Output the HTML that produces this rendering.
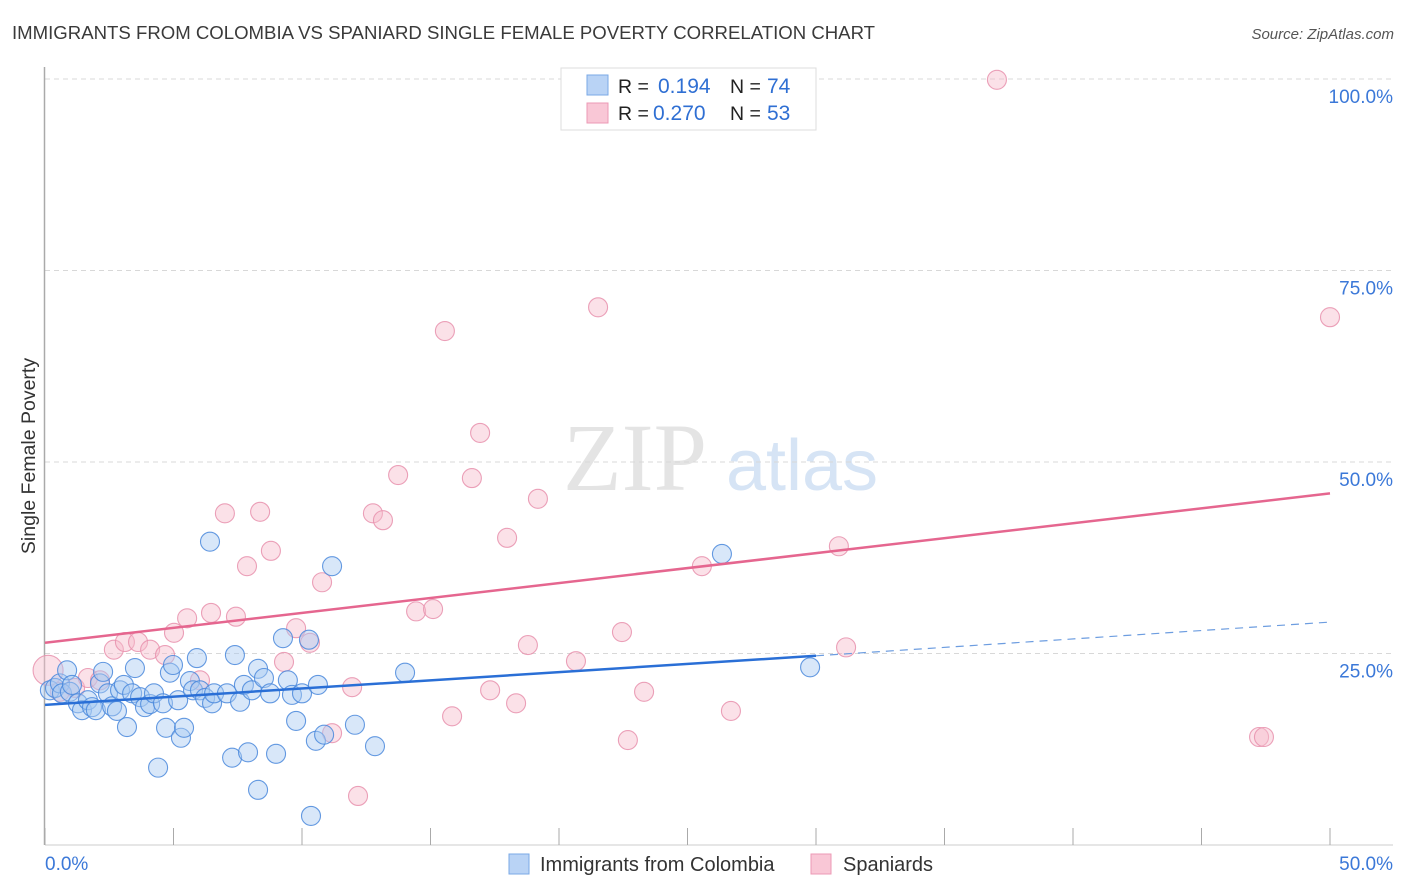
<!DOCTYPE html>
<html><head><meta charset="utf-8"><style>
body{margin:0;background:#fff;font-family:"Liberation Sans",sans-serif;}
svg{display:block}
</style></head><body>
<svg id="chart" width="1406" height="892" xmlns="http://www.w3.org/2000/svg">
<text x="12" y="39" font-size="18.6" fill="#3a3a3a">IMMIGRANTS FROM COLOMBIA VS SPANIARD SINGLE FEMALE POVERTY CORRELATION CHART</text>
<text x="1394" y="39" font-size="15" fill="#555" font-style="italic" text-anchor="end">Source: ZipAtlas.com</text>
<text x="35" y="456" font-size="19.5" fill="#333" text-anchor="middle" transform="rotate(-90 35 456)">Single Female Poverty</text>
<g>
<text x="635" y="490" font-size="96" fill="#e4e4e4" font-family="Liberation Serif,serif" text-anchor="middle">ZIP</text>
<text x="802" y="490" font-size="72" fill="#d6e4f5" text-anchor="middle">atlas</text>
</g>
<g id="grid"></g>
<g id="axes"></g>
<g id="marks"></g>
<g>
<rect x="561" y="68" width="255" height="62" fill="#fff" stroke="#ddd"/>
<rect x="587" y="75" width="21" height="20" fill="#b9d3f5" stroke="#7aa8e6"/>
<rect x="587" y="103" width="21" height="20" fill="#f9c7d6" stroke="#ec9ab5"/>
<text x="618" y="93" font-size="19.5" fill="#222">R = </text><text x="658" y="93" font-size="21" fill="#2f6fd3">0.194</text>
<text x="730" y="93" font-size="19.5" fill="#222">N = </text><text x="767" y="93" font-size="21" fill="#2f6fd3">74</text>
<text x="618" y="120" font-size="19.5" fill="#222">R = </text><text x="653" y="120" font-size="21" fill="#2f6fd3">0.270</text>
<text x="730" y="120" font-size="19.5" fill="#222">N = </text><text x="767" y="120" font-size="21" fill="#2f6fd3">53</text>
</g>
<g>
<rect x="509" y="854" width="20" height="20" fill="#b9d3f5" stroke="#7aa8e6"/>
<text x="540" y="871" font-size="20" fill="#333">Immigrants from Colombia</text>
<rect x="811" y="854" width="20" height="20" fill="#f9c7d6" stroke="#ec9ab5"/>
<text x="843" y="871" font-size="20" fill="#333">Spaniards</text>
</g>
</svg>
<script>
const blueX=[0.19,0.39,0.58,0.66,0.86,0.97,1.05,1.28,1.44,1.67,1.83,1.98,2.14,2.26,2.45,2.61,2.80,2.92,3.07,3.19,3.39,3.50,3.70,3.89,4.09,4.24,4.40,4.59,4.71,4.86,4.98,5.18,5.29,5.41,5.64,5.76,5.91,6.03,6.23,6.42,6.50,6.58,7.08,7.28,7.39,7.59,7.74,7.90,8.05,8.29,8.29,8.52,8.76,8.99,9.26,9.45,9.61,9.77,10.00,10.27,10.35,10.54,10.62,10.86,11.17,12.06,12.84,14.01,26.34,29.77];
const blueY=[20.2,20.5,21.1,19.8,22.8,20.0,20.9,18.5,17.6,18.9,18.0,17.6,21.1,22.6,19.8,18.1,17.5,20.2,20.9,15.4,19.8,23.1,19.3,18.0,18.4,19.8,10.1,18.5,15.3,22.5,23.5,18.9,14.0,15.3,21.4,20.2,24.4,20.2,19.2,39.6,18.5,19.8,19.8,11.4,24.8,18.7,20.9,12.1,20.2,7.2,23.0,21.8,19.8,11.9,27.0,21.5,19.6,16.2,19.8,26.8,3.8,13.6,20.9,14.4,36.4,15.7,12.9,22.5,38.0,23.2];
const pinkX=[0.12,0.58,1.17,1.67,2.14,2.68,3.11,3.62,4.09,4.67,5.02,5.53,6.03,6.46,7.00,7.43,7.86,8.37,8.79,9.30,9.77,10.31,10.78,11.17,11.95,12.18,12.76,13.15,13.74,14.44,15.10,15.56,15.84,16.61,16.93,17.32,17.98,18.33,18.79,19.18,20.66,21.52,22.45,22.68,23.31,25.56,26.69,30.89,31.17,37.04,47.24,47.43,50.00];
const pinkY=[22.8,20.0,20.5,21.8,21.5,25.5,26.5,26.5,25.5,24.8,27.7,29.6,21.5,30.3,43.3,29.8,36.4,43.5,38.4,23.9,28.3,26.4,34.3,14.6,20.6,6.4,43.3,42.4,48.3,30.5,30.8,67.1,16.8,47.9,53.8,20.2,40.1,18.5,26.1,45.2,24.0,70.2,27.8,13.7,20.0,36.4,17.5,39.0,25.8,99.9,14.1,14.1,68.9];
const blueTrend=[18.3,24.7,29.1]; // at x=0, 30, 50
const pinkTrend=[26.4,45.9];      // at x=0, 50
const yTicks=[25,50,75,100];
const xTicks=[0,5,10,15,20,25,30,35,40,45,50];

const NS="http://www.w3.org/2000/svg";
const sx=v=>45+v/50*1285;
const sy=v=>845-v/25*191.5;
function mk(tag,attrs,parent){const e=document.createElementNS(NS,tag);for(const k in attrs)e.setAttribute(k,attrs[k]);parent.appendChild(e);return e;}
const grid=document.getElementById('grid'),axes=document.getElementById('axes'),marks=document.getElementById('marks');
yTicks.forEach(t=>{
  const l=mk('line',{x1:45,x2:1393,y1:sy(t),y2:sy(t),stroke:'#d8d8d8','stroke-dasharray':'5,4'},grid);
  
  
  const tx=mk('text',{x:1393,y:sy(t)+24,'font-size':19,fill:'#3b78d8','text-anchor':'end'},grid);
  tx.textContent=t.toFixed(1)+'%';
  
  
});
const ax=mk('line',{x1:44.5,x2:44.5,y1:67,y2:845,stroke:'#aaa','stroke-width':1.5},axes);


const bx=mk('line',{x1:45,x2:1393,y1:845,y2:845,stroke:'#ccc'},axes);


xTicks.forEach(t=>{
  const l=mk('line',{x1:sx(t),x2:sx(t),y1:828,y2:845,stroke:'#aaa'},axes);
  
  
});
[[0,'start',45],[50,'end',1393]].forEach(([t,a,x])=>{
  const tx=mk('text',{x:x,y:870,'font-size':19,fill:'#3b78d8','text-anchor':a},axes);
  tx.textContent=t.toFixed(1)+'%';
  
  
});
function dot(x,y,r,fill,stroke,name){
  const c=mk('circle',{cx:sx(x),cy:sy(y),r:r,fill:fill,'fill-opacity':0.45,stroke:stroke,'stroke-width':1.1,'stroke-opacity':0.85},marks);
  
  
}
pinkX.forEach((x,i)=>dot(x,pinkY[i],i===0?15:9.5,'#f7bccd','#e890ad','spaniards-point'));
blueX.forEach((x,i)=>dot(x,blueY[i],9.5,'#a9c9f2','#4a88dc','colombia-point'));
let ln=mk('line',{x1:sx(0),y1:sy(pinkTrend[0]),x2:sx(50),y2:sy(pinkTrend[1]),stroke:'#e5668f','stroke-width':2.5},marks);


ln=mk('line',{x1:sx(0),y1:sy(blueTrend[0]),x2:sx(30),y2:sy(blueTrend[1]),stroke:'#2a6fd6','stroke-width':2.5},marks);


ln=mk('line',{x1:sx(30),y1:sy(blueTrend[1]),x2:sx(50),y2:sy(blueTrend[2]),stroke:'#6d9de0','stroke-width':1.2,'stroke-dasharray':'8,6'},marks);


</script>
</body></html>
